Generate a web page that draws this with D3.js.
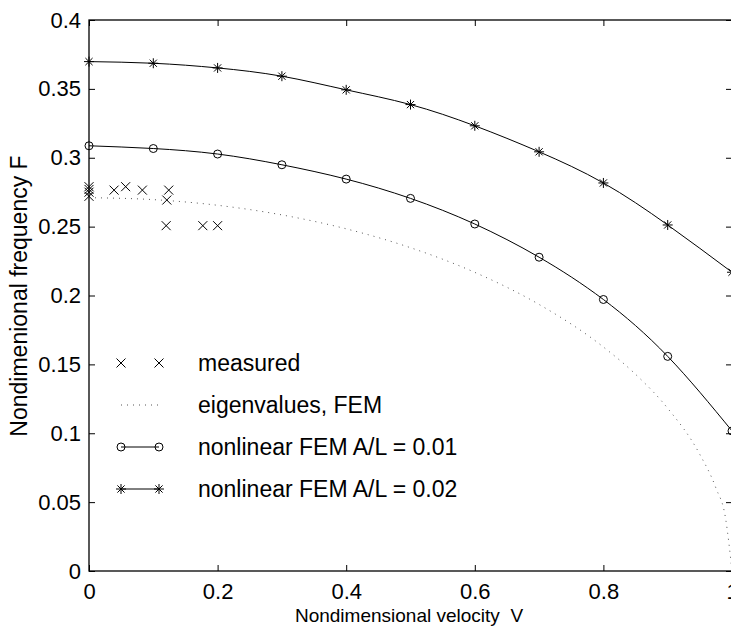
<!DOCTYPE html>
<html>
<head>
<meta charset="utf-8">
<script src="https://cdn.jsdelivr.net/npm/d3@7"></script>
<style>
  body { margin: 0; background: #fff; }
  text { font-family: "Liberation Sans", Arial, sans-serif; fill: #000; }
</style>
</head>
<body>
<script>
// measured points (V, F)
const measuredV = [0, 0, 0, 0, 0.039, 0.057, 0.083, 0.124, 0.121, 0.12, 0.177, 0.2];
const measuredF = [0.272, 0.275, 0.277, 0.279, 0.2765, 0.279, 0.2765, 0.2765, 0.2693, 0.2507, 0.2507, 0.2507];

// eigenvalues, FEM (dotted)
const eigV = [0, 0.1, 0.2, 0.3, 0.4, 0.5, 0.6, 0.7, 0.8, 0.85, 0.9, 0.95, 0.975, 0.99, 1.0];
const eigF = [0.271, 0.2696, 0.2655, 0.2585, 0.2484, 0.2347, 0.2168, 0.1935, 0.1626, 0.1428, 0.1181, 0.0846, 0.0602, 0.0382, 0];

// nonlinear FEM
const nlV = [0, 0.1, 0.2, 0.3, 0.4, 0.5, 0.6, 0.7, 0.8, 0.9, 1.0];
const nl01 = [0.3087, 0.3067, 0.3027, 0.2949, 0.2845, 0.2705, 0.2519, 0.2278, 0.1971, 0.1558, 0.1017];
const nl02 = [0.3698, 0.3686, 0.3652, 0.3592, 0.3493, 0.3386, 0.3232, 0.3043, 0.2817, 0.2512, 0.2169];

const xTicks = [0, 0.2, 0.4, 0.6, 0.8, 1];
const yTicks = [0, 0.05, 0.1, 0.15, 0.2, 0.25, 0.3, 0.35, 0.4];
const legendLabels = ['measured', 'eigenvalues, FEM', 'nonlinear FEM A/L = 0.01', 'nonlinear FEM A/L = 0.02'];

const width = 731, height = 632;
const x = d3.scaleLinear().domain([0, 1]).range([89, 732]);
const y = d3.scaleLinear().domain([0, 0.4]).range([571, 20]);

const svg = d3.select('body').append('svg')
  .attr('width', width).attr('height', height);

svg.append('rect').attr('width', width).attr('height', height).attr('fill', '#fff');

// box
svg.append('rect')
  .attr('x', x(0)).attr('y', y(0.4))
  .attr('width', x(1) - x(0)).attr('height', y(0) - y(0.4))
  .attr('fill', 'none').attr('stroke', '#000').attr('stroke-width', 1.3);

const fmt = d => d === 0 ? '0' : String(+d.toFixed(2));
const tickLen = 6;

const xAxis = d3.axisBottom(x).tickValues(xTicks).tickSizeInner(-tickLen).tickSizeOuter(0).tickPadding(12).tickFormat(fmt);
const xTop = d3.axisTop(x).tickValues(xTicks).tickSizeInner(-tickLen).tickSizeOuter(0).tickFormat('');
const yAxis = d3.axisLeft(y).tickValues(yTicks).tickSizeInner(-tickLen).tickSizeOuter(0).tickPadding(8).tickFormat(fmt);
const yRight = d3.axisRight(y).tickValues(yTicks).tickSizeInner(-tickLen).tickSizeOuter(0).tickFormat('');

function style(g) {
  g.select('.domain').remove();
  g.selectAll('line').attr('stroke', '#000');
  g.selectAll('text').attr('font-size', 22).attr('font-family', '"Liberation Sans", Arial, sans-serif').attr('fill', '#000');
}

svg.append('g').attr('transform', `translate(0,${y(0)})`).call(xAxis).call(style);
svg.append('g').attr('transform', `translate(0,${y(0.4)})`).call(xTop).call(style);
svg.append('g').attr('transform', `translate(${x(0)},0)`).call(yAxis).call(style);
svg.append('g').attr('transform', `translate(${x(1)},0)`).call(yRight).call(style);

// axis labels
svg.append('text')
  .attr('x', 409).attr('y', 622)
  .attr('text-anchor', 'middle').attr('font-size', 19)
  .style('white-space', 'pre')
  .text('Nondimensional velocity  V');

svg.append('text')
  .attr('transform', 'translate(27,296) rotate(-90)')
  .attr('text-anchor', 'middle').attr('font-size', 23)
  .text('Nondimenional frequency F');

// markers
function xMark(g, cx, cy) {
  const s = 4.5;
  g.append('path')
    .attr('d', `M${cx - s},${cy - s}L${cx + s},${cy + s}M${cx - s},${cy + s}L${cx + s},${cy - s}`)
    .attr('stroke', '#000').attr('stroke-width', 1).attr('fill', 'none');
}
function circleMark(g, cx, cy) {
  g.append('circle').attr('cx', cx).attr('cy', cy).attr('r', 4)
    .attr('fill', 'none').attr('stroke', '#000').attr('stroke-width', 1);
}
function starMark(g, cx, cy) {
  const s = 5, d = 3.6;
  g.append('path')
    .attr('d', `M${cx - s},${cy}L${cx + s},${cy}M${cx},${cy - s}L${cx},${cy + s}` +
               `M${cx - d},${cy - d}L${cx + d},${cy + d}M${cx - d},${cy + d}L${cx + d},${cy - d}`)
    .attr('stroke', '#000').attr('stroke-width', 1).attr('fill', 'none');
}

const plot = svg.append('g');

// eigenvalues dotted
const eigData = eigV.map((v, i) => [v, eigF[i]]);
plot.append('path')
  .datum(eigData)
  .attr('d', d3.line().x(d => x(d[0])).y(d => y(d[1])).curve(d3.curveMonotoneX))
  .attr('fill', 'none').attr('stroke', '#555').attr('stroke-width', 1)
  .attr('stroke-dasharray', '1,5');

// nonlinear curves
const nlLine = d3.line().x(d => x(d[0])).y(d => y(d[1])).curve(d3.curveNatural);
[nl01, nl02].forEach((series, k) => {
  const data = nlV.map((v, i) => [v, series[i]]);
  plot.append('path').datum(data).attr('d', nlLine)
    .attr('fill', 'none').attr('stroke', '#000').attr('stroke-width', 1);
  data.forEach(d => (k === 0 ? circleMark : starMark)(plot, x(d[0]), y(d[1])));
});

// measured
measuredV.forEach((v, i) => xMark(plot, x(v), y(measuredF[i])));

// legend
const legend = svg.append('g');
const lx1 = 121, lx2 = 159, tx = 198, rowY = [363, 405, 447, 489];
legendLabels.forEach((label, i) => {
  const ry = rowY[i];
  if (i === 0) {
    xMark(legend, lx1, ry); xMark(legend, lx2, ry);
  } else if (i === 1) {
    legend.append('line').attr('x1', lx1).attr('x2', lx2).attr('y1', ry).attr('y2', ry)
      .attr('stroke', '#555').attr('stroke-dasharray', '1,5');
  } else {
    legend.append('line').attr('x1', lx1).attr('x2', lx2).attr('y1', ry).attr('y2', ry)
      .attr('stroke', '#000');
    const m = i === 2 ? circleMark : starMark;
    m(legend, lx1, ry); m(legend, lx2, ry);
  }
  legend.append('text').attr('x', tx).attr('y', ry + 8).attr('font-size', 23).text(label);
});
</script>
</body>
</html>
